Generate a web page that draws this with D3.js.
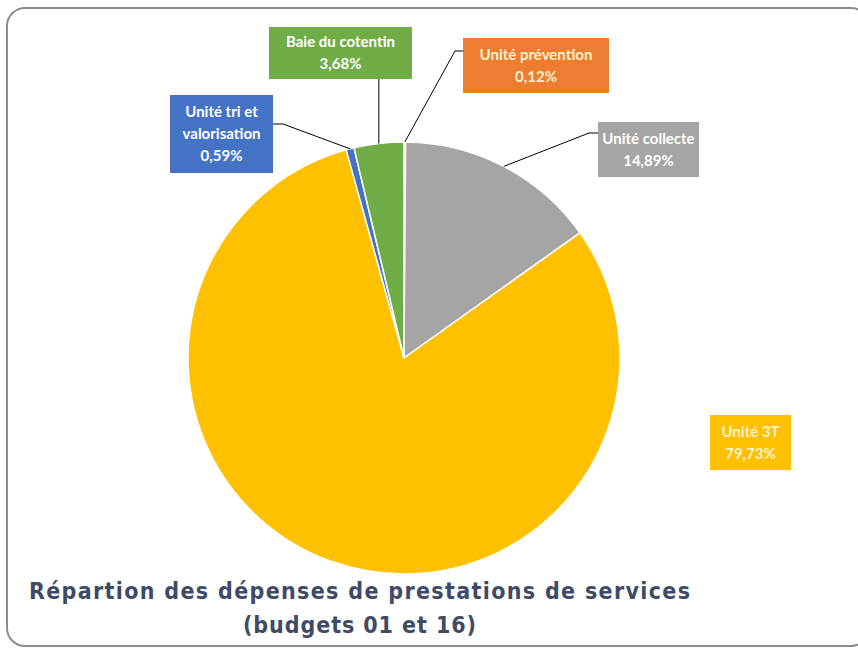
<!DOCTYPE html>
<html>
<head>
<meta charset="utf-8">
<script src="https://cdn.jsdelivr.net/npm/d3@7"></script>
<style>
  html, body { margin: 0; padding: 0; background: #ffffff; }
  svg { display: block; }
</style>
</head>
<body>
<svg id="chart" width="858" height="648"></svg>
<script>
// Service expenditure split (budgets 01 and 16), clockwise from 12 o'clock
const categories = ["Unité prévention", "Unité collecte", "Unité 3T", "Unité tri et valorisation", "Baie du cotentin"];
const shares = [0.12, 14.89, 79.73, 0.59, 3.68];
const shareLabels = ["0,12%", "14,89%", "79,73%", "0,59%", "3,68%"];
const colors = ["#ED7D31", "#A5A5A5", "#FFC000", "#4472C4", "#70AD47"];
const titleLines = ["Répartion des dépenses de prestations de services", "(budgets 01 et 16)"];

// Callout boxes: box geometry, label lines, text colour and leader routing
const callouts = [
  { x: 463, y: 38, w: 146, h: 55, lines: ["Unité prévention"], text: "#FFF2CC", side: "left", ay: 51, elbow: 8 },
  { x: 598, y: 122, w: 101, h: 55, lines: ["Unité collecte"], text: "#FFFFFF", side: "left", ay: 133, elbow: 9 },
  { x: 710, y: 415, w: 81, h: 55, lines: ["Unité 3T"], text: "#FFF2CC", side: "none" },
  { x: 170, y: 95, w: 103, h: 78, lines: ["Unité tri et", "valorisation"], text: "#FFFFFF", side: "right", ay: 124, elbow: 10 },
  { x: 269, y: 27, w: 143, h: 52, lines: ["Baie du cotentin"], text: "#FFFFFF", side: "bottom" }
];

const svg = d3.select("#chart");
const cx = 404, cy = 358, R = 216;
const fontFamily = "Lato, 'Open Sans', sans-serif";

// Chart frame
svg.append("rect")
  .attr("x", 7).attr("y", 8)
  .attr("width", 862).attr("height", 638)
  .attr("rx", 18).attr("ry", 18)
  .attr("fill", "#ffffff")
  .attr("stroke", "#8c8c8c")
  .attr("stroke-width", 2);

const pie = d3.pie().sort(null).value(d => d)
  .startAngle(0).endAngle(2 * Math.PI);
const arcs = pie(shares);
const arc = d3.arc().innerRadius(0).outerRadius(R);

const g = svg.append("g").attr("transform", `translate(${cx},${cy})`);

g.selectAll("path.slice")
  .data(arcs)
  .join("path")
  .attr("class", "slice")
  .attr("d", arc)
  .attr("fill", (d, i) => colors[i])
  .attr("stroke", "#ffffff")
  .attr("stroke-width", 1.5)
  .attr("stroke-linejoin", "round");

// Point on the rim at a slice's mid-angle (page coordinates)
function rimPoint(d) {
  const a = (d.startAngle + d.endAngle) / 2;
  return [cx + R * Math.sin(a), cy - R * Math.cos(a)];
}

// Leader lines
const leaders = svg.append("g")
  .attr("fill", "none")
  .attr("stroke", "#000000")
  .attr("stroke-width", 1);

arcs.forEach((d, i) => {
  const c = callouts[i];
  const p = rimPoint(d);
  let pts = null;
  if (c.side === "left") {
    pts = [[c.x, c.ay], [c.x - c.elbow, c.ay], p];
  } else if (c.side === "right") {
    pts = [[c.x + c.w, c.ay], [c.x + c.w + c.elbow, c.ay], p];
  } else if (c.side === "bottom") {
    pts = [[p[0], c.y + c.h], p];
  }
  if (pts) leaders.append("path").attr("d", d3.line()(pts));
});

// Callout boxes with category and share
const boxes = svg.append("g");
arcs.forEach((d, i) => {
  const c = callouts[i];
  const bg = boxes.append("g");
  bg.append("rect")
    .attr("x", c.x).attr("y", c.y)
    .attr("width", c.w).attr("height", c.h)
    .attr("fill", colors[i]);
  const lines = c.lines.concat([shareLabels[i]]);
  const lh = 22;
  const top = c.y + c.h / 2 - (lines.length - 1) * lh / 2;
  lines.forEach((t, k) => {
    bg.append("text")
      .attr("x", c.x + c.w / 2)
      .attr("y", top + k * lh)
      .attr("dy", "0.36em")
      .attr("text-anchor", "middle")
      .attr("fill", c.text)
      .attr("font-family", fontFamily)
      .attr("font-weight", "bold")
      .attr("font-size", 15)
      .text(t);
  });
});

// Title
const title = svg.append("g")
  .attr("fill", "#3E4B66")
  .attr("font-family", "'DejaVu Sans Condensed', 'DejaVu Sans', sans-serif")
  .attr("font-stretch", "condensed")
  .attr("font-weight", "bold")
  .attr("font-size", 23);
title.append("text")
  .attr("x", 29).attr("y", 599)
  .attr("textLength", 661)
  .attr("lengthAdjust", "spacing")
  .text(titleLines[0]);
title.append("text")
  .attr("x", 243).attr("y", 633)
  .attr("textLength", 233)
  .attr("lengthAdjust", "spacing")
  .text(titleLines[1]);
</script>
</body>
</html>
